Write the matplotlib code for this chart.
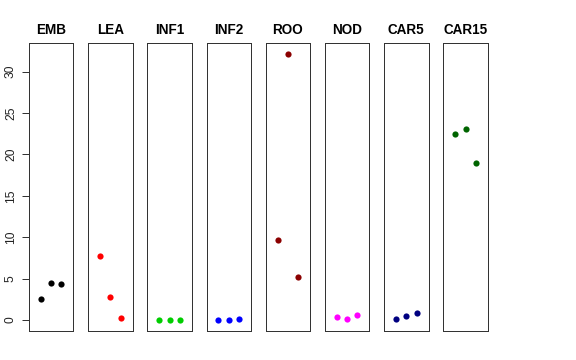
import matplotlib
matplotlib.use("Agg")
import matplotlib.pyplot as plt

plt.rcParams['font.family'] = ['Liberation Sans', 'DejaVu Sans']

tissues = ["EMB", "LEA", "INF1", "INF2", "ROO", "NOD", "CAR5", "CAR15"]
colors = ["black", "red", "#00CD00", "blue", "#8B0000", "magenta", "#000080", "#006400"]
emb = [2.54, 4.43, 4.35]
lea = [7.73, 2.82, 0.2]
inf1 = [0.0, 0.0, 0.0]
inf2 = [0.05, 0.02, 0.08]
roo = [9.66, 32.14, 5.15]
nod = [0.4, 0.16, 0.56]
car5 = [0.08, 0.52, 0.89]
car15 = [22.46, 23.07, 18.96]
values = [emb, lea, inf1, inf2, roo, nod, car5, car15]
reps = [1, 2, 3]
yticks = [0, 5, 10, 15, 20, 25, 30]

W, H = 576, 360
fig = plt.figure(figsize=(W / 72, H / 72), dpi=72)

allv = [v for s in values for v in s]
ymin, ymax = min(allv), max(allv)
r = ymax - ymin
ylim = (ymin - 0.04 * r, ymax + 0.04 * r)
xlim = (0 - 0.16, 4 + 0.16)

left0, step, pw = 29.0, 59.2, 44.3
top, bottom = 43.3, 330.7
for i, (name, col, vals) in enumerate(zip(tissues, colors, values)):
    l = left0 + i * step
    ax = fig.add_axes([l / W, 1 - bottom / H, pw / W, (bottom - top) / H])
    ax.plot(reps, vals, 'o', color=col, markersize=6.2, markeredgewidth=0)
    ax.set_xlim(*xlim)
    ax.set_ylim(*ylim)
    ax.set_xticks([])
    for sp in ax.spines.values():
        sp.set_linewidth(1.0)
        sp.set_color("#333333")
    ax.set_title(name, fontsize=13.5, fontweight='bold', pad=9)
    if i == 0:
        ax.set_yticks(yticks)
        ax.set_yticklabels([str(t) for t in yticks], rotation=90, va='center', fontsize=12, color="#222222")
        ax.tick_params(axis='y', length=7, width=1, pad=5, color="#333333")
    else:
        ax.set_yticks([])

fig.savefig("out.png", dpi=72)
